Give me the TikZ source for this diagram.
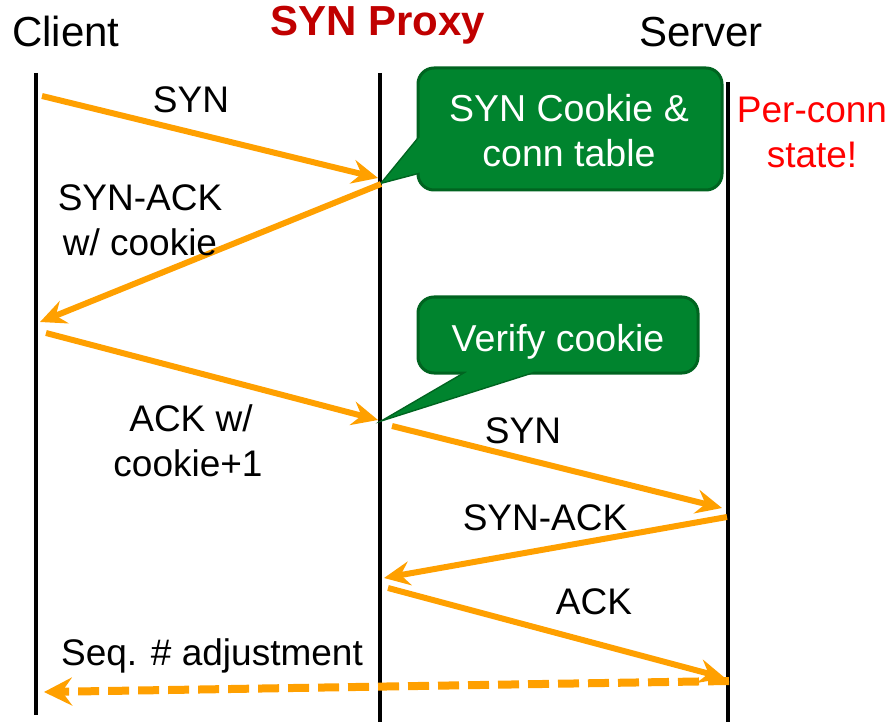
\documentclass[tikz,border=0pt]{standalone}
\usepackage{fontspec}
\setmainfont{Liberation Sans}
\usetikzlibrary{arrows.meta}
\definecolor{orng}{RGB}{255,160,0}
\definecolor{cgreen}{RGB}{0,132,46}
\definecolor{cdark}{RGB}{0,100,32}
\definecolor{pxred}{RGB}{192,0,0}
\begin{document}
\begin{tikzpicture}[x=1pt,y=-1pt,
  lbl/.style={font=\fontsize{37}{44}\selectfont, anchor=base, inner sep=0pt},
  ttl/.style={font=\fontsize{42}{50}\selectfont, anchor=base, inner sep=0pt},
  life/.style={line width=4pt, draw=black},
  msg/.style={line width=6pt, draw=orng, -{Stealth[length=26pt,width=24pt,inset=9pt]}},
  dmsg/.style={line width=8pt, draw=orng, dash pattern=on 21pt off 9pt, -{Stealth[length=28pt,width=28pt,inset=10pt]}},
  cbox/.style={fill=cgreen, draw=cdark, line width=3pt, rounded corners=16pt, inner sep=0pt},
  ctext/.style={text=white, font=\fontsize{37.5}{45}\selectfont, align=center, inner sep=0pt},
  cptr/.style={fill=cgreen, draw=cdark, line width=3pt, line join=miter},
  cfill/.style={fill=cgreen, draw=none},
]
\useasboundingbox (0,0) rectangle (892,722);
% titles
\node[ttl] (tclient) at (66,47) {Client};
\node[ttl, font=\fontsize{42}{50}\selectfont\bfseries, text=pxred] (tproxy) at (378,36) {SYN Proxy};
\node[ttl] (tserver) at (701,47) {Server};
% lifelines
\coordinate (c0) at (36,73);  \coordinate (c1) at (36,715);
\coordinate (p0) at (380,73); \coordinate (p1) at (380,722);
\coordinate (s0) at (728,82); \coordinate (s1) at (728,722);
\draw[life] (c0) -- (c1);
\draw[life] (p0) -- (p1);
\draw[life] (s0) -- (s1);
% per-conn state
\node[lbl, text=red] (pc1) at (812,123) {Per-conn};
\node[lbl, text=red] (pc2) at (812,168) {state!};
% callout 1
\coordinate (tip1) at (383,182);
\coordinate (b1a) at (419,138); \coordinate (b1b) at (421,172);
\coordinate (b1c) at (432,134); \coordinate (b1d) at (432,176);
\draw[cptr] (b1a) -- (tip1) -- (b1b);
\node[cbox, minimum width=304pt, minimum height=122pt] (box1) at (570,129) {};
\fill[cfill] (b1c) -- (b1a) -- (tip1) -- (b1b) -- (b1d) -- cycle;
\node[ctext] (t1) at (569,131) {SYN Cookie \&\\conn table};
% callout 2
\coordinate (tip2) at (388,418);
\coordinate (b2a) at (467,372); \coordinate (b2b) at (533,372);
\coordinate (b2c) at (462,360); \coordinate (b2d) at (540,360);
\draw[cptr] (b2a) -- (tip2) -- (b2b);
\node[cbox, minimum width=280pt, minimum height=76pt] (box2) at (558,335) {};
\fill[cfill] (b2c) -- (b2a) -- (tip2) -- (b2b) -- (b2d) -- cycle;
\node[lbl, text=white, font=\fontsize{37.5}{45}\selectfont] (t2) at (558,351) {Verify cookie};
% messages
\coordinate (m1a) at (42,96);   \coordinate (m1b) at (378,178);
\coordinate (m2a) at (381,184); \coordinate (m2b) at (40,322);
\coordinate (m3a) at (46,333);  \coordinate (m3b) at (378,420);
\coordinate (m4a) at (392,426); \coordinate (m4b) at (722,508);
\coordinate (m5a) at (727,517); \coordinate (m5b) at (384,578);
\coordinate (m6a) at (388,588); \coordinate (m6b) at (725,678);
\coordinate (m7a) at (729,681); \coordinate (m7b) at (44,692);
\draw[msg] (m1a) -- (m1b);
\draw[msg] (m2a) -- (m2b);
\draw[msg] (m3a) -- (m3b);
\draw[msg] (m4a) -- (m4b);
\draw[msg] (m5a) -- (m5b);
\draw[msg] (m6a) -- (m6b);
\draw[dmsg] (m7a) -- (m7b);
% labels
\node[lbl] (l1) at (191,113) {SYN};
\node[lbl] (l2a) at (140,211) {SYN-ACK};
\node[lbl] (l2b) at (140,256) {w/ cookie};
\node[lbl] (l3a) at (191,431) {ACK w/};
\node[lbl] (l3b) at (188,476) {cookie+1};
\node[lbl] (l4) at (523,443) {SYN};
\node[lbl] (l5) at (545,530) {SYN-ACK};
\node[lbl] (l6) at (594,614) {ACK};
\node[lbl] (l7) at (212,665) {Seq. \# adjustment};
\end{tikzpicture}
\end{document}
